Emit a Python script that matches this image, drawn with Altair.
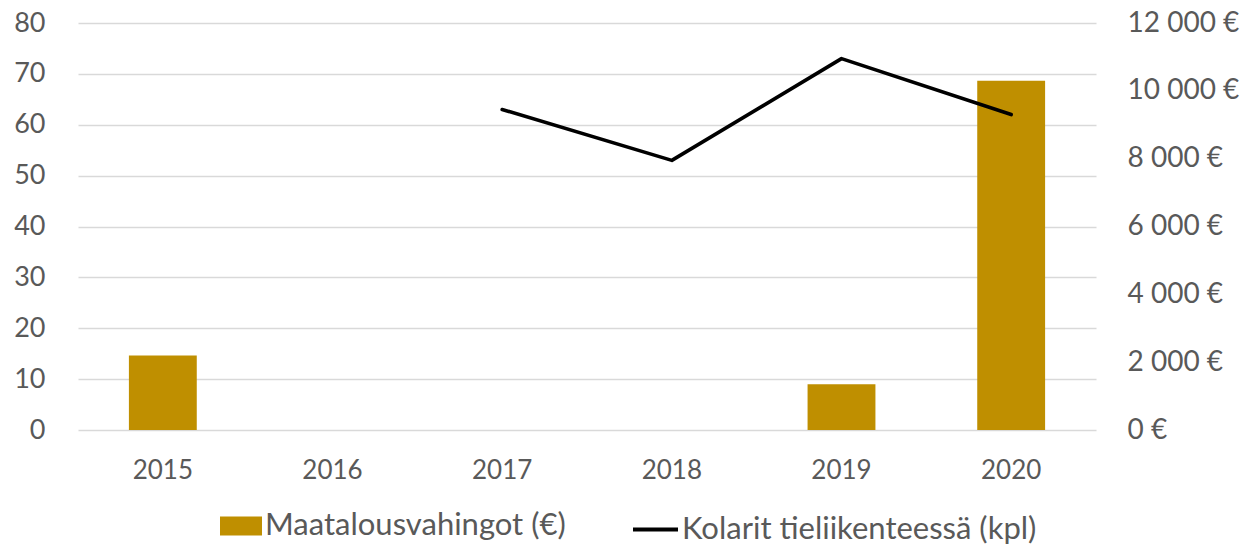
import altair as alt
import pandas as pd

# ---- data ----
years = ["2015", "2016", "2017", "2018", "2019", "2020"]
damages_eur = [2200, None, None, None, 1350, 10300]      # bars, right axis (€)
collisions = [None, None, 63, 53, 73, 62]                 # line, left axis (kpl)
left_ticks = [0, 10, 20, 30, 40, 50, 60, 70, 80]
right_ticks = [0, 2000, 4000, 6000, 8000, 10000, 12000]

BAR_LABEL = "Maatalousvahingot (€)"
LINE_LABEL = "Kolarit tieliikenteessä (kpl)"

bar_df = pd.DataFrame(
    [{"year": y, "value": v, "series": BAR_LABEL} for y, v in zip(years, damages_eur) if v is not None]
)
line_df = pd.DataFrame(
    [{"year": y, "value": v, "series": LINE_LABEL} for y, v in zip(years, collisions) if v is not None]
)

FONT = "Lato"
TXT = "#595959"
GOLD = "#BF8F00"

xscale = alt.Scale(domain=years, paddingInner=0.6, paddingOuter=0.3)
xaxis = alt.Axis(
    title=None, labelAngle=0, domain=False, ticks=False, grid=False,
    labelFontSize=26, labelPadding=27, labelColor=TXT, labelFont=FONT,
)

bars = alt.Chart(bar_df).mark_bar(color=GOLD).encode(
    x=alt.X("year:N", scale=xscale, axis=xaxis),
    y=alt.Y(
        "value:Q",
        scale=alt.Scale(domain=[0, 12000], nice=False),
        axis=alt.Axis(
            orient="right", values=right_ticks, grid=False, domain=False, ticks=False,
            title=None, labelAlign="left", labelPadding=31, labelFontSize=28,
            labelColor=TXT, labelFont=FONT,
            labelExpr="replace(format(datum.value, ','), ',', ' ') + ' €'",
        ),
    ),
    fill=alt.Fill(
        "series:N",
        scale=alt.Scale(domain=[BAR_LABEL], range=[GOLD]),
        legend=alt.Legend(
            orient="none", legendX=142, legendY=482, title=None, padding=0,
            symbolType="M-1,-0.45H1V0.45H-1Z", symbolSize=1764, symbolStrokeWidth=0,
            symbolOpacity=1, labelFontSize=31, labelFont=FONT, labelColor=TXT,
            labelOffset=3, labelLimit=1000,
        ),
    ),
)

line = alt.Chart(line_df).mark_line(
    color="black", strokeWidth=3.6, strokeCap="round", strokeJoin="round"
).encode(
    x=alt.X("year:N", scale=xscale, axis=xaxis),
    y=alt.Y(
        "value:Q",
        scale=alt.Scale(domain=[0, 80], nice=False),
        axis=alt.Axis(
            orient="left", values=left_ticks, grid=True, gridColor="#D9D9D9",
            gridWidth=1.3, domain=False, ticks=False, title=None,
            labelPadding=33, labelFontSize=27, labelColor=TXT, labelFont=FONT,
        ),
    ),
    stroke=alt.Stroke(
        "series:N",
        scale=alt.Scale(domain=[LINE_LABEL], range=["black"]),
        legend=alt.Legend(
            orient="none", legendX=553, legendY=482, title=None, padding=0,
            symbolType="stroke", symbolSize=2025, symbolStrokeWidth=4,
            labelFontSize=31, labelFont=FONT, labelColor=TXT, labelOffset=2,
            labelLimit=1000,
        ),
    ),
)

chart = (
    alt.layer(bars, line)
    .resolve_scale(y="independent")
    .properties(
        width=1018, height=407,
        padding={"left": 78, "top": 23, "right": 152, "bottom": 115},
        autosize=alt.AutoSizeParams(type="none"),
        background="white",
        view=alt.ViewBackground(stroke="transparent", strokeWidth=0, strokeOpacity=0),
    )
    .configure_view(stroke=None, strokeWidth=0, strokeOpacity=0)
    .configure_axis(domain=False, ticks=False, domainOpacity=0)
    .configure_axisY(domain=False, ticks=False)
    .configure_axisLeft(domain=False)
    .configure_axisRight(domain=False)
    .configure_axisX(grid=False)
    .configure(font=FONT)
)

chart.save("out.html", embed_options={"renderer": "svg", "actions": False})
